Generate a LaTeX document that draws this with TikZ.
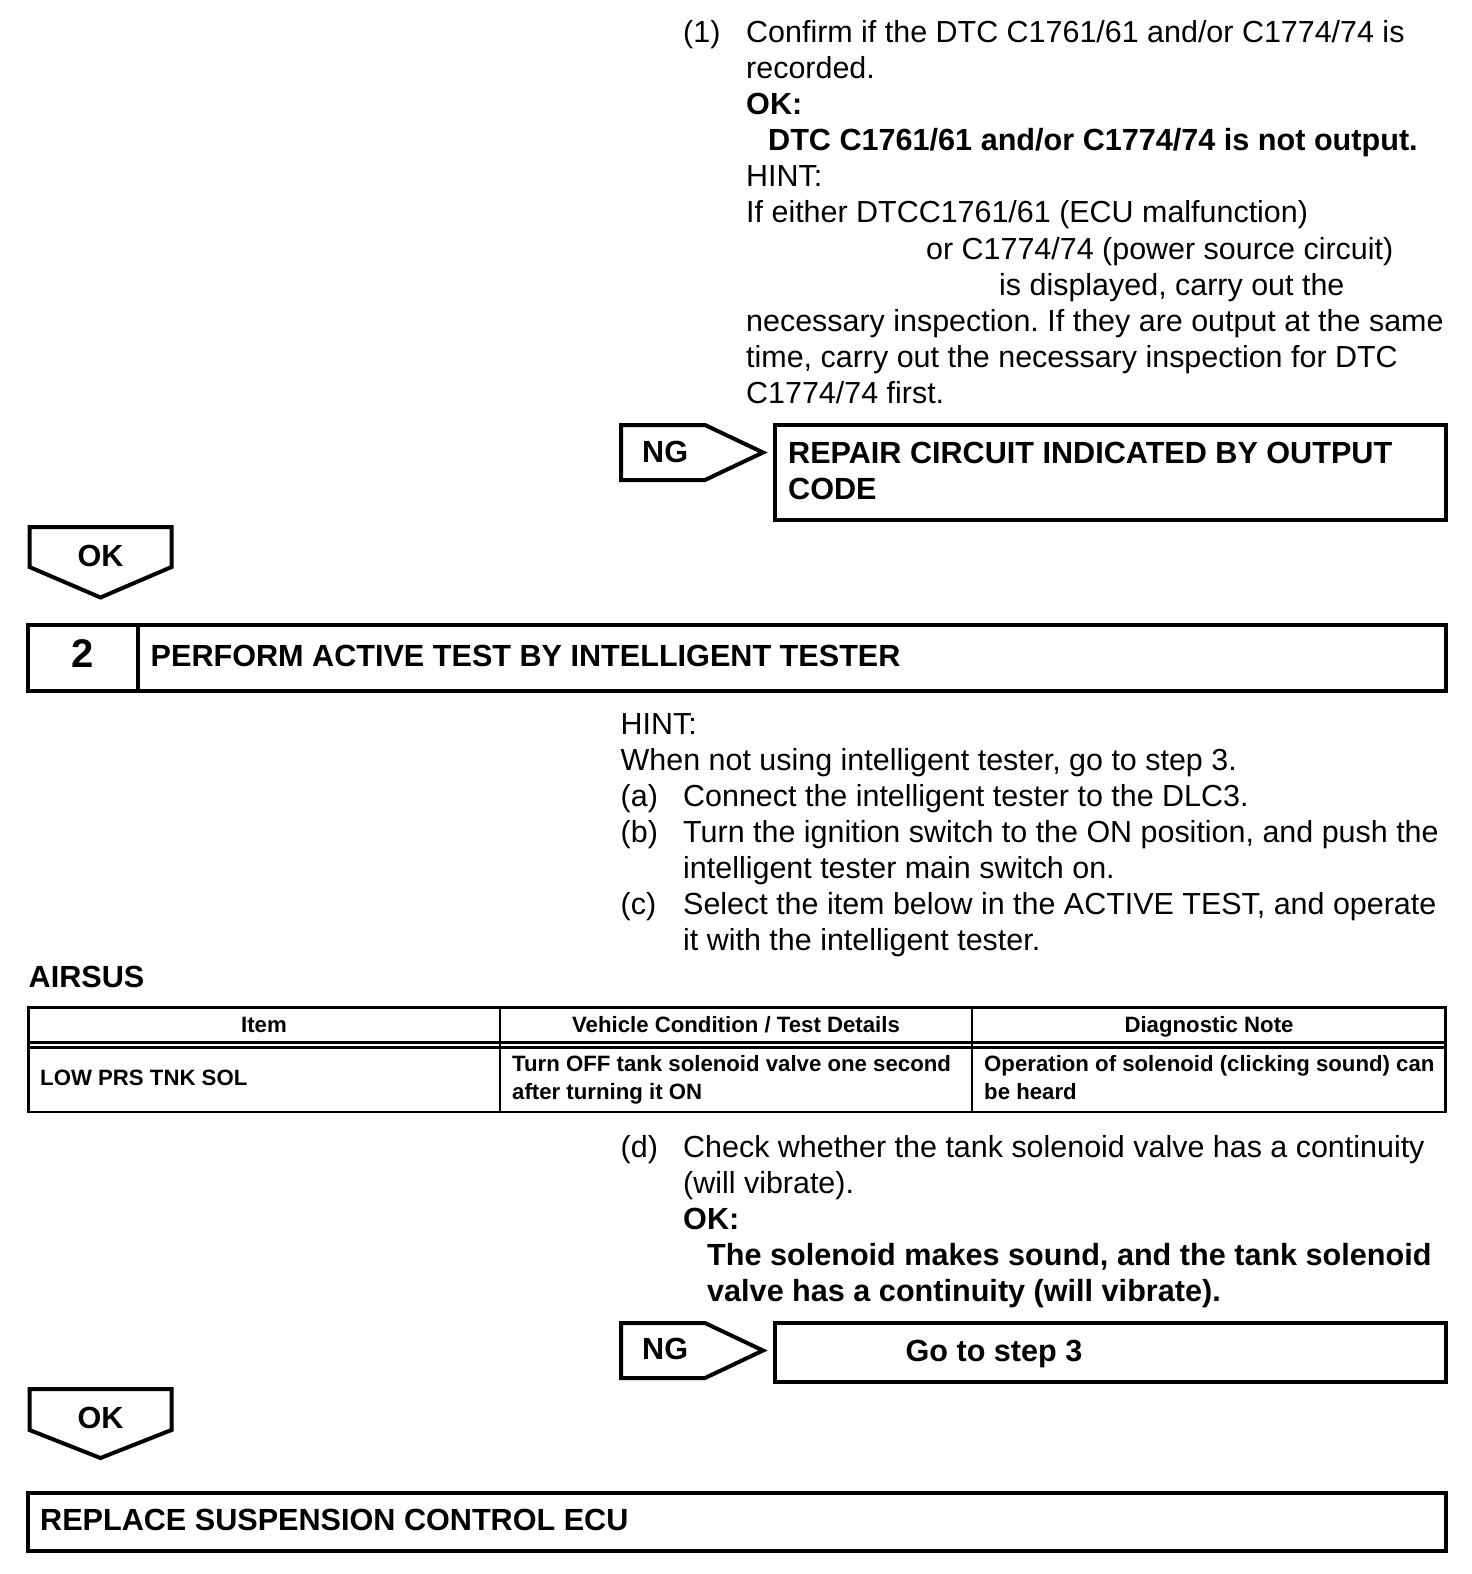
\documentclass[tikz,border=0pt]{standalone}
\usepackage{fontspec}
\setmainfont{Liberation Sans}
\begin{document}
\frenchspacing
\begin{tikzpicture}[x=1pt,y=-1pt,
  txt/.style={anchor=base west,inner sep=0pt,font=\fontsize{30.45}{36}\selectfont},
  btxt/.style={anchor=base west,inner sep=0pt,font=\fontsize{30.6}{36}\selectfont\bfseries},
  ctxt/.style={btxt,anchor=base},
  tbl/.style={anchor=base west,inner sep=0pt,font=\fontsize{22.2}{28}\selectfont\bfseries},
  tblc/.style={tbl,anchor=base},
  boxline/.style={line width=4pt,line join=miter},
  tblline/.style={line width=2.2pt}]
\useasboundingbox (0,0) rectangle (1472,1574);
\fill[white] (0,0) rectangle (1472,1574);

% ---- step 1 text
\node[txt] (n1) at (683,42.2) {(1)};
\node[txt] (l1) at (746,42.2) {Confirm if the DTC C1761/61 and/or C1774/74 is};
\node[txt] (l2) at (746,78.3) {recorded.};
\node[btxt] (l3) at (746,114.5) {OK:};
\node[btxt] (l4) at (768,150.6) {DTC C1761/61 and/or C1774/74 is not output.};
\node[txt] (l5) at (746,186.8) {HINT:};
\node[txt] (l6) at (746,222.9) {If either DTCC1761/61 (ECU malfunction)};
\node[txt] (l7) at (926,259) {or C1774/74 (power source circuit)};
\node[txt] (l8) at (999,295.2) {is displayed, carry out the};
\node[txt] (l9) at (746,331.3) {necessary inspection. If they are output at the same};
\node[txt] (l10) at (746,367.5) {time, carry out the necessary inspection for DTC};
\node[txt] (l11) at (746,403.6) {C1774/74 first.};

% ---- NG 1
\draw[boxline] (621,425) -- (705,425) -- (763,452.5) -- (705,480) -- (621,480) -- cycle;
\node[btxt] (ng1) at (642,462) {NG};
\draw[boxline] (775,425) rectangle (1446,520);
\node[btxt] (rep1) at (788,463) {REPAIR CIRCUIT INDICATED BY OUTPUT};
\node[btxt] (rep2) at (788,499) {CODE};

% ---- OK 1
\draw[boxline] (29.5,527) -- (171.5,527) -- (171.5,567) -- (100.5,597.5) -- (29.5,567) -- cycle;
\node[ctxt] (ok1) at (100.5,566) {OK};

% ---- step 2 header
\draw[boxline] (28,624.5) rectangle (1446,691);
\draw[boxline] (137.5,624.5) -- (137.5,691);
\node[ctxt,font=\fontsize{40}{44}\selectfont\bfseries] (s2n) at (83,667) {2};
\node[btxt] (s2t) at (150.5,666) {PERFORM ACTIVE TEST BY INTELLIGENT TESTER};

% ---- step 2 text
\node[txt] (h1) at (620.5,734) {HINT:};
\node[txt] (h2) at (620.5,770) {When not using intelligent tester, go to step 3.};
\node[txt] (ha) at (620.5,806) {(a)};
\node[txt] (hat) at (683,806) {Connect the intelligent tester to the DLC3.};
\node[txt] (hb) at (620.5,842.3) {(b)};
\node[txt] (hbt) at (683,842.3) {Turn the ignition switch to the ON position, and push the};
\node[txt] (hbt2) at (683,878.5) {intelligent tester main switch on.};
\node[txt] (hc) at (620.5,914.7) {(c)};
\node[txt] (hct) at (683,914.7) {Select the item below in the ACTIVE TEST, and operate};
\node[txt] (hct2) at (683,950.8) {it with the intelligent tester.};
\node[btxt] (airsus) at (28.5,987) {AIRSUS};

% ---- table
\draw[tblline] (28.5,1007.5) rectangle (1445.5,1112);
\draw[tblline] (28.5,1042.5) -- (1445.5,1042.5);
\draw[tblline] (28.5,1047.5) -- (1445.5,1047.5);
\draw[tblline] (500,1007.5) -- (500,1112);
\draw[tblline] (972,1007.5) -- (972,1112);
\node[tblc] (th1) at (264,1032) {Item};
\node[tblc] (th2) at (736,1032) {Vehicle Condition / Test Details};
\node[tblc] (th3) at (1209,1032) {Diagnostic Note};
\node[tbl] (td1) at (40,1085) {LOW PRS TNK SOL};
\node[tbl] (td2a) at (512,1071) {Turn OFF tank solenoid valve one second};
\node[tbl] (td2b) at (512,1099) {after turning it ON};
\node[tbl] (td3a) at (984,1071) {Operation of solenoid (clicking sound) can};
\node[tbl] (td3b) at (984,1099) {be heard};

% ---- (d)
\node[txt] (hd) at (620.5,1157) {(d)};
\node[txt] (hdt) at (683,1157) {Check whether the tank solenoid valve has a continuity};
\node[txt] (hdt2) at (683,1193) {(will vibrate).};
\node[btxt] (hok) at (683,1229) {OK:};
\node[btxt] (hok1) at (707,1265) {The solenoid makes sound, and the tank solenoid};
\node[btxt] (hok2) at (707,1301) {valve has a continuity (will vibrate).};

% ---- NG 2
\draw[boxline] (621,1323) -- (705,1323) -- (763,1350.5) -- (705,1378) -- (621,1378) -- cycle;
\node[btxt] (ng2) at (642,1359.5) {NG};
\draw[boxline] (775,1323) rectangle (1446,1382);
\node[ctxt] (go3) at (994,1361.5) {Go to step 3};

% ---- OK 2
\draw[boxline] (29.5,1389) -- (171.5,1389) -- (171.5,1430) -- (100.5,1458) -- (29.5,1430) -- cycle;
\node[ctxt] (ok2) at (100.5,1428) {OK};

% ---- final box
\draw[boxline] (28,1493) rectangle (1446,1551);
\node[btxt] (repl) at (40,1530) {REPLACE SUSPENSION CONTROL ECU};
\end{tikzpicture}
\end{document}
